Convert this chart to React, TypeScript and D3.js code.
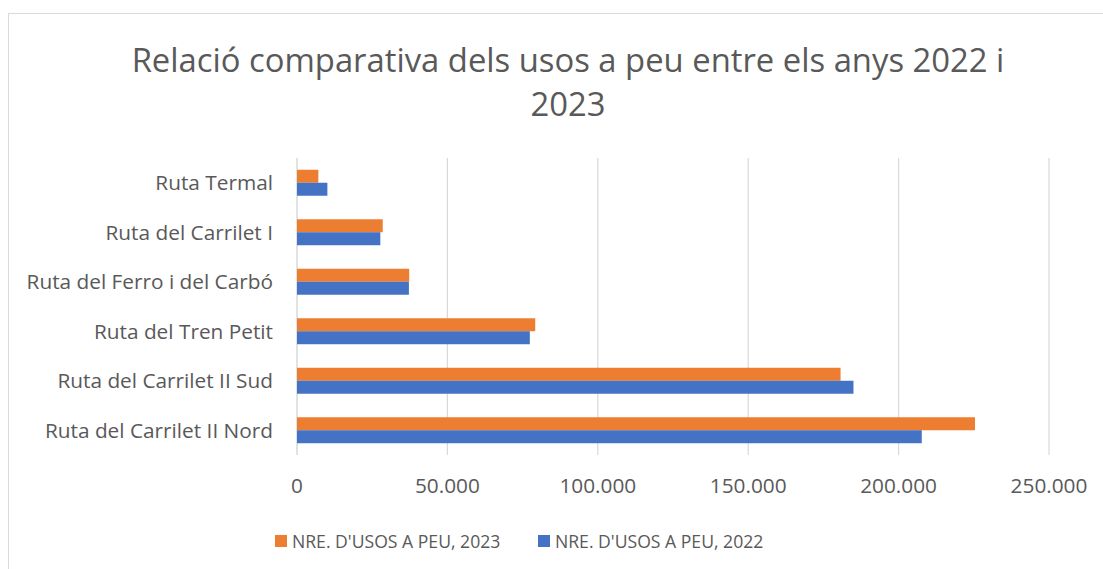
import React from 'react';
import * as d3 from 'd3';

const categories = [
  'Ruta Termal',
  'Ruta del Carrilet I',
  'Ruta del Ferro i del Carbó',
  'Ruta del Tren Petit',
  'Ruta del Carrilet II Sud',
  'Ruta del Carrilet II Nord',
];
const usos2023 = [7100, 28500, 37300, 79200, 180700, 225400];
const usos2022 = [10100, 27700, 37200, 77400, 185000, 207700];
const xTicks = [0, 50000, 100000, 150000, 200000, 250000];
const seriesNames = ["NRE. D'USOS A PEU, 2023", "NRE. D'USOS A PEU, 2022"];
const seriesColors = ['#ED7D31', '#4472C4'];

const W = 1103;
const H = 569;
const plot = { left: 297, right: 1049, top: 158, bottom: 455 };
const textColor = '#595959';
const gridColor = '#D9D9D9';
const font = '"Open Sans", sans-serif';

const locale = d3.formatLocale({ decimal: ',', thousands: '.', grouping: [3], currency: ['', ''] });
const fmt = locale.format(',d');

export default function App() {
  const x = d3.scaleLinear().domain([0, 250000]).range([plot.left, plot.right]);
  const y = d3.scaleBand<string>()
    .domain(categories)
    .range([plot.top, plot.bottom])
    .paddingInner(0.475)
    .paddingOuter(0.2375);
  const ySub = d3.scaleBand<number>().domain([0, 1]).range([0, y.bandwidth()]);
  const series = [usos2023, usos2022];

  return (
    <svg width={W} height={H} style={{ position: 'absolute', left: 0, top: 0, display: 'block', background: '#fff' }}>
      <rect x={8.5} y={13.5} width={1200} height={700} fill="#fff" stroke={gridColor} strokeWidth={1} />

      {/* title */}
      <text x={568} y={72} textAnchor="middle" fontFamily={font} fontSize={32.8} fill={textColor}>
        Relació comparativa dels usos a peu entre els anys 2022 i
      </text>
      <text x={568} y={116} textAnchor="middle" fontFamily={font} fontSize={32.8} fill={textColor}>
        2023
      </text>

      {/* gridlines */}
      {xTicks.map(t => (
        <line key={t} x1={x(t)} x2={x(t)} y1={plot.top} y2={plot.bottom} stroke={gridColor} strokeWidth={t === 0 ? 1.5 : 1.2} />
      ))}

      {/* bars */}
      {categories.map((c, i) => (
        <g key={c} transform={`translate(0,${y(c)})`}>
          {series.map((s, k) => (
            <rect
              key={k}
              x={x(0)}
              y={ySub(k)}
              width={x(s[i]) - x(0)}
              height={ySub.bandwidth()}
              fill={seriesColors[k]}
            />
          ))}
        </g>
      ))}

      {/* category labels */}
      {categories.map(c => (
        <text key={c} x={273} y={(y(c) ?? 0) + y.bandwidth() / 2} dy="0.35em" textAnchor="end"
          fontFamily={font} fontSize={20.8} fill={textColor}>
          {c}
        </text>
      ))}

      {/* x tick labels */}
      {xTicks.map(t => (
        <text key={t} x={x(t)} y={493} textAnchor="middle" fontFamily={font} fontSize={20.8} fill={textColor}>
          {fmt(t)}
        </text>
      ))}

      {/* legend */}
      {[275, 538].map((lx, k) => (
        <g key={k}>
          <rect x={lx} y={535} width={12} height={12} fill={seriesColors[k]} />
          <text x={lx + 17} y={548} fontFamily={font} fontSize={17.6} fill={textColor}>
            {seriesNames[k]}
          </text>
        </g>
      ))}
    </svg>
  );
}
